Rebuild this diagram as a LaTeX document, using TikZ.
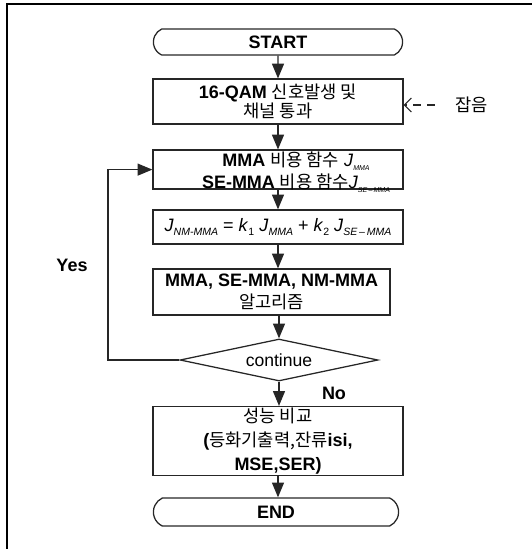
\documentclass[tikz,border=0pt]{standalone}
\usepackage{fontspec}
\setmainfont{Liberation Sans}
\newfontfamily\kr{Noto Sans CJK KR}[Scale=0.98]
\usetikzlibrary{shapes.geometric,shapes.misc,arrows.meta}

% cost function J with a small italic subscript
\newcommand\cost[2][7.5]{\textit{J}\raisebox{-0.45ex}{\fontsize{#1}{#1}\selectfont\itshape #2}}

\tikzset{
  box/.style={draw=black!85, line width=0.9pt, minimum width=6.25cm, align=center,
    inner sep=1pt, font=\fontsize{12.8}{15.5}\selectfont},
  term/.style={draw=black!85, line width=0.9pt, rounded rectangle, rounded rectangle arc length=130,
    minimum width=6.3cm, minimum height=0.65cm, inner sep=1pt, font=\fontsize{12.8}{14}\selectfont\bfseries},
  decide/.style={draw=black!85, line width=0.9pt, diamond, aspect=4.7, inner sep=0pt,
    minimum width=4.95cm, minimum height=1.05cm, font=\fontsize{12.5}{14}\selectfont},
  flow/.style={draw=black!85, line width=0.9pt, -{Triangle[length=10.5pt,width=8.5pt]}},
  tag/.style={font=\fontsize{12.8}{14}\selectfont\bfseries}
}

\begin{document}
\begin{tikzpicture}
\useasboundingbox (0,0) rectangle (13.3,-13.725);
\draw[line width=1.2pt] (0.175,-13.725) -- (0.175,-0.1) -- (13.3,-0.1);

\node[term] (start) at (6.95,-1.05) {START};

\node[box, minimum height=1.125cm] (gen) at (6.95,-2.54)
  {\textbf{16-QAM} {\kr 신호발생 및}\\[-2pt]{\kr 채널 통과}};

\node[box, minimum height=0.975cm] (cost) at (6.95,-4.24) {};
\node[align=center, font=\fontsize{12.8}{15.5}\selectfont] at ([xshift=0.45cm,yshift=-0.06cm]cost.center)
  {\textbf{MMA} {\kr 비용 함수} \cost[5]{MMA}\\\textbf{SE-MMA} {\kr 비용 함수}\cost[5]{SE\,–\,MMA}};

\node[box, minimum height=0.85cm] (comb) at (6.95,-5.675)
  {\cost{NM-MMA} = \textit{k}\raisebox{-0.45ex}{\fontsize{7.5}{8}\selectfont 1} \cost{MMA}
   + \textit{k}\raisebox{-0.45ex}{\fontsize{7.5}{8}\selectfont 2} \cost{SE\,–\,MMA}};

\node[box, minimum width=5.925cm, minimum height=1.15cm] (algo) at (6.79,-7.3)
  {\textbf{MMA, SE-MMA, NM-MMA}\\{\kr 알고리즘}};

\node[decide] (cont) at (6.975,-9.0) {continue};

\node[box, minimum height=1.55cm, font=\fontsize{12.8}{17}\selectfont] (perf) at (6.95,-11.025)
  {{\kr 성능 비교}\\\textbf{(}{\kr 등화기출력,잔류}\textbf{isi,}\\\textbf{MSE,SER)}};

\node[term, minimum width=6.2cm, minimum height=0.7cm] (stop) at (6.9,-12.8) {END};

% main flow
\draw[flow] (start) -- (gen);
\draw[flow] (gen) -- (cost);
\draw[flow] (cost) -- (comb);
\draw[flow] (comb.south) -- (comb.south |- algo.north);
\draw[flow] (algo.south -| cont.north) -- (cont.north);
\draw[flow] (cont.south) -- (cont.south |- perf.north);
\draw[flow] (perf.south) -- (perf.south |- stop.north);

% loop back
\coordinate (back) at (2.7,-9.0);
\draw[flow] (cont.west) -- (back) |- (cost.west);
\node[tag] (yes) at (1.8,-6.625) {Yes};
\node[tag] (no) at (8.35,-9.825) {No};

% noise input
\coordinate (noise) at (10.875,-2.625);
\draw[draw=black!85, line width=0.8pt, dash pattern=on 6pt off 4pt,
  -{Straight Barb[length=5pt,width=10pt]}] (noise) -- (noise -| gen.east);
\node[font=\fontsize{12.8}{14}\selectfont\kr] (noiselbl) at (11.8,-2.625) {잡음};
\end{tikzpicture}
\end{document}
